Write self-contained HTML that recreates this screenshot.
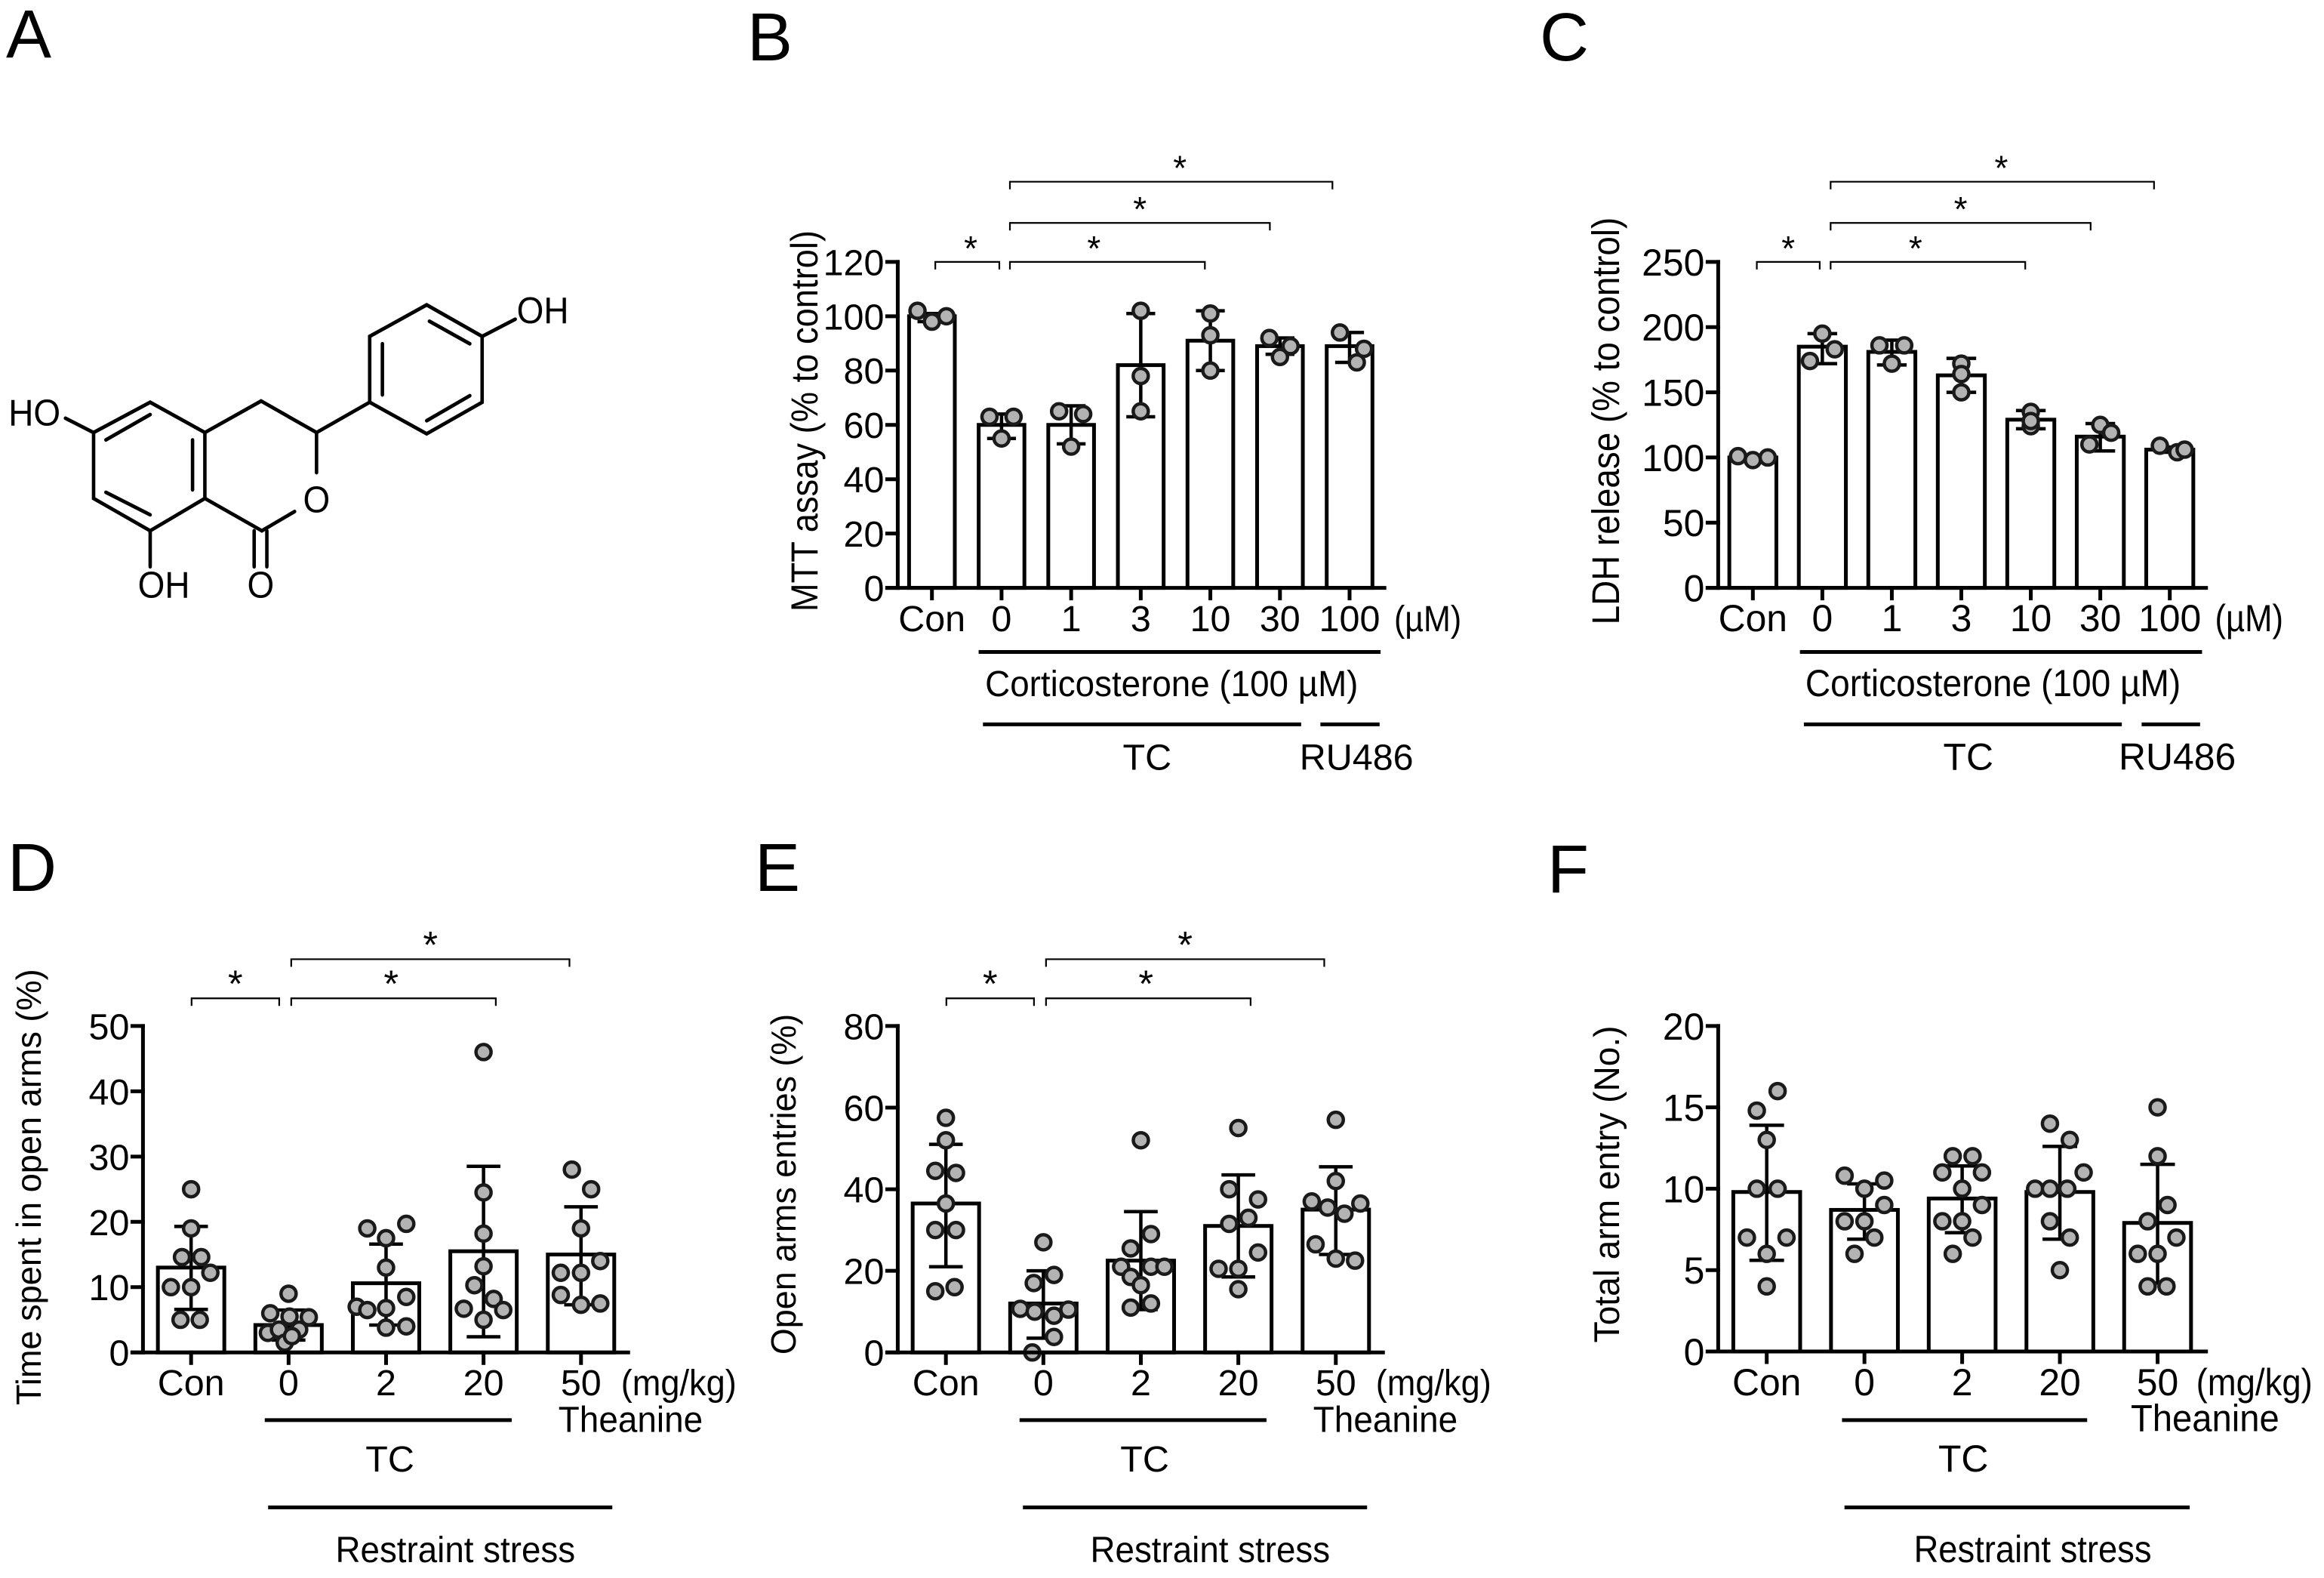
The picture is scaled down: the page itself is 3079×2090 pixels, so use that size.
<!DOCTYPE html>
<html><head><meta charset="utf-8"><style>
html,body{margin:0;padding:0;background:#fff;}
svg{display:block;font-family:"Liberation Sans",Arial,sans-serif;}
</style></head><body>
<svg id="fig" width="3079" height="2090" viewBox="0 0 3079 2090" xmlns="http://www.w3.org/2000/svg">
<rect width="3079" height="2090" fill="#fff"/>
<g font-size="90" fill="#000">
<text x="8" y="76">A</text>
<text x="990" y="80">B</text>
<text x="2040" y="80">C</text>
<text x="10" y="1180">D</text>
<text x="1000" y="1180">E</text>
<text x="2050" y="1182">F</text>
</g>
<g transform="scale(0.5102,0.542)" stroke="#000" stroke-width="9" fill="none" stroke-linecap="round">
<polygon points="390,983 532,1057 532,1218 390,1297 243,1218 243,1057"/>
<line x1="275" y1="1075" x2="390" y2="1013"/><line x1="500" y1="1075" x2="500" y2="1197"/><line x1="275" y1="1203" x2="390" y2="1258"/>
<line x1="243" y1="1057" x2="170" y2="1022"/><line x1="390" y1="1297" x2="390" y2="1385"/>
<polyline points="532,1057 678,980 822,1057 822,1155"/>
<polyline points="532,1218 680,1297 765,1250"/>
<line x1="660" y1="1297" x2="660" y2="1385"/><line x1="693" y1="1297" x2="693" y2="1385"/>
<line x1="822" y1="1057" x2="960" y2="983"/>
<polygon points="960,983 960,822 1108,745 1252,822 1252,983 1108,1060"/>
<line x1="993" y1="840" x2="993" y2="965"/><line x1="1115" y1="785" x2="1220" y2="840"/><line x1="1108" y1="1028" x2="1220" y2="967"/>
<line x1="1252" y1="822" x2="1338" y2="780"/>
<g stroke="none" fill="#000" font-size="90">
<text x="22" y="1040">HO</text><text x="358" y="1460">OH</text>
<text x="822" y="1252" text-anchor="middle">O</text><text x="677" y="1460" text-anchor="middle">O</text>
<text x="1342" y="790">OH</text>
</g>
</g>
</svg>
<script>
// ---------- Panel B data (MTT) ----------
const bCategories = ["Con","0","1","3","10","30","100"];
const bMeans = [100,60,60,82,91,89,89];
const bErrLow = [98,55,53,63,80,86,83];
const bErrHigh = [101,64,67,101,102,92,94];
const bPoints = [[102,98,100],[63,55,63],[65,52,64],[102,78,65],[101,93,80],[92,85,89],[94,83,88]];
const bTicks = [0,20,40,60,80,100,120];
// ---------- Panel C data (LDH) ----------
const cCategories = ["Con","0","1","3","10","30","100"];
const cMeans = [100,185,181,163,129,116,106];
const cErrLow = [99,172,171,150,122,105,104];
const cErrHigh = [101,195,190,176,136,126,108];
const cPoints = [[101,98,100],[174,195,183],[186,172,186],[172,150,164],[135,124,128],[110,125,119],[109,104,106]];
const cTicks = [0,50,100,150,200,250];
// ---------- Panel D data (time in open arms) ----------
const dCategories = ["Con","0","2","20","50"];
const dMeans = [13,4.2,10.6,15.5,15.0];
const dErrLow = [6.6,1.9,4.2,2.4,7.3];
const dErrHigh = [19.3,6.5,16.6,28.5,22.3];
const dPoints = [[25,19,14.6,14.6,10,10,12.2,5,5],[9,6,5.5,5.4,3,3.5,3.5,1.5,2.5],[19,19.7,17.5,13,7,6.5,6.8,8.5,3.8,4],[46,24.5,18.2,13.2,10.3,8.2,6.7,6.5,5],[28,25,19,12.2,12.2,14,8.8,7.3,7.5]];
const dTicks = [0,10,20,30,40,50];
// ---------- Panel E data (open arms entries) ----------
const eCategories = ["Con","0","2","20","50"];
const eMeans = [36.5,12,22.5,31,35];
const eErrLow = [21,3.5,10.5,18.5,24];
const eErrHigh = [51,20,34.5,43.5,45.5];
const ePoints = [[57.5,52,44.5,44,36.5,30,30,15,16],[27,17,19,10.7,10,9,10.5,3.8,0],[52,29,25.5,21,21,18.5,21,16.5,11,12],[55,40,37.5,31.5,33,24.5,20.5,20.5,15.5],[57,42,37,35.5,34,36.5,26.5,23,22.5]];
const eTicks = [0,20,40,60,80];
// ---------- Panel F data (total arm entry) ----------
const fCategories = ["Con","0","2","20","50"];
const fMeans = [9.8,8.7,9.4,9.8,7.9];
const fErrLow = [5.6,6.9,7.3,6.9,4.2];
const fErrHigh = [13.9,10.3,11.4,12.6,11.5];
const fPoints = [[16,14.8,13,10,10,7,7,6,4],[10.8,10.5,10,9,8,8,7,6],[12,12,11,11,10,9,8,8,7,6],[14,13,11,10,10,10,8,7,5],[15,12,9,8,7,6,6,4,4]];
const fTicks = [0,5,10,15,20];

// layout: horizontal jitter of dots (zoom units), not data
const jitB = [[-30,0,30],[-25,0,25],[-25,0,25],[0,0,0],[0,0,0],[-22,0,22],[-20,15,30]];
const jitD = [[0,0,-19,21,-42,0,40,-22,18],[0,-38,2,42,-43,-20,22,-8,7],[-39,42,0,0,-61,-39,0,42,0,42],[0,0,0,0,-19,21,-41,41,0],[-19,21,0,-42,0,40,-42,0,40]];
const jitE = [[0,0,-22,21,0,-22,21,-22,18],[0,-20,22,-48,-18,22,52,22,-23],[0,21,-21,21,-41,-21,49,0,-21,21],[0,-19,41,-19,21,41,-41,0,0],[0,0,-50,-17,18,51,-42,0,40]];
const jitF = [[22,-20,0,-20,22,-40,40,0,0],[-40,40,0,40,-40,0,20,-20],[-19,21,-40,40,0,40,-40,0,21,-19],[-20,20,48,-50,-20,15,-20,20,0],[0,0,20,-20,38,-40,0,-20,18]];

const NS = "http://www.w3.org/2000/svg";
const fig = document.getElementById("fig");
function mk(tag, attrs, parent){
  const e = document.createElementNS(NS, tag);
  for (const k in attrs) e.setAttribute(k, attrs[k]);
  parent.appendChild(e);
  return e;
}
function txt(parent, x, y, s, size, anchor, len){
  const t = mk("text", {x:x, y:y, "font-size":size, "text-anchor":anchor||"start", fill:"#000"}, parent);
  if (len){ t.setAttribute("textLength", len); t.setAttribute("lengthAdjust","spacingAndGlyphs"); }
  t.textContent = s;
  return t;
}

function panel(cfg){
  const sx = cfg.sx, sy = cfg.sy;
  const px = v => v / sx, py = v => v / sy;
  const g = mk("g", {transform:"translate("+cfg.ox+","+cfg.oy+")"}, fig);
  
  
  const yMax = cfg.ticks[cfg.ticks.length-1];
  const Y = v => py(cfg.y0 - (v / yMax) * (cfg.y0 - cfg.yTop));
  const X = i => px(cfg.x0c + i * cfg.step);
  const fs = px(76);
  cfg.means.forEach((m,i)=>{
    const r = mk("rect", {x:X(i)-px(cfg.bw/2), y:Y(m), width:px(cfg.bw), height:py(cfg.y0)-Y(m), fill:"#fff", stroke:"#000", "stroke-width":5}, g);
    
    
  });
  cfg.means.forEach((m,i)=>{
    const eg = mk("g", {stroke:"#000","stroke-width":4.5}, g);
    
    
    const c = px(cfg.cap);
    mk("line", {x1:X(i), x2:X(i), y1:Y(cfg.lo[i]), y2:Y(cfg.hi[i])}, eg);
    mk("line", {x1:X(i)-c, x2:X(i)+c, y1:Y(cfg.lo[i]), y2:Y(cfg.lo[i])}, eg);
    mk("line", {x1:X(i)-c, x2:X(i)+c, y1:Y(cfg.hi[i]), y2:Y(cfg.hi[i])}, eg);
  });
  cfg.pts.forEach((arr,i)=>{
    arr.forEach((v,j)=>{
      const c = mk("circle", {cx:X(i)+px(cfg.jit[i][j]||0), cy:Y(v), r:10, fill:"#b3b3b3", stroke:"#1a1a1a","stroke-width":4.5}, g);
      
      
    });
  });
  const ax = mk("g", {stroke:"#000","stroke-width":5,"stroke-linecap":"square"}, g);
  
  
  const axX = px(cfg.ax);
  mk("line", {x1:axX, x2:axX, y1:py(cfg.yTop), y2:py(cfg.y0)}, ax);
  mk("line", {x1:axX-14, x2:px(cfg.xEnd), y1:py(cfg.y0), y2:py(cfg.y0)}, ax);
  cfg.ticks.forEach(t=>{
    mk("line", {x1:axX-14, x2:axX, y1:Y(t), y2:Y(t)}, ax);
    const l = txt(g, axX-18, Y(t)+fs*0.36, String(t), fs, "end");
    
    
  });
  cfg.cats.forEach((c,i)=>{
    mk("line", {x1:X(i), x2:X(i), y1:py(cfg.y0), y2:py(cfg.y0)+14}, ax);
    const l = txt(g, X(i), py(cfg.tickBase), c, fs, "middle");
    
    
  });
  const yt = txt(g, 0, 0, cfg.ytitle, px(cfg.ytSize), "middle", py(cfg.ytLen));
  yt.setAttribute("transform", "translate("+px(cfg.ytX)+","+py(cfg.ytY)+") rotate(-90)");
  
  
  (cfg.brackets||[]).forEach(b=>{
    const bg = mk("g", {stroke:"#000","stroke-width":2.2,fill:"none"}, g);
    
    
    const x1 = px(b[0]), x2 = px(b[1]), yy = py(b[2]);
    mk("polyline", {points: x1+","+(yy+10)+" "+x1+","+yy+" "+x2+","+yy+" "+x2+","+(yy+10)}, bg);
    const st = txt(g, (x1+x2)/2 - px(b[3]||0), yy-2, "*", py(80), "middle");
    
    
  });
  (cfg.lines||[]).forEach(l=>{
    const ln = mk("line", {x1:px(l[0]), x2:px(l[1]), y1:py(l[2]), y2:py(l[2]), stroke:"#000","stroke-width":5}, g);
    
    
  });
  (cfg.labels||[]).forEach(l=>{
    const t = txt(g, px(l[0]), py(l[1]), l[2], fs, l[3]||"start", l[4] ? px(l[4]) : null);
    
    
  });
}

panel({name:"panel-b-mtt-chart", ox:1000, oy:150, sx:1.568, sy:1.742, ax:297, xEnd:1308, y0:1095, yTop:343,
  x0c:368, step:144.6, bw:95, cap:30, tickBase:1195, ticks:bTicks, cats:bCategories, means:bMeans, lo:bErrLow, hi:bErrHigh, pts:bPoints, jit:jitB,
  ytitle:"MTT assay (% to control)", ytSize:78, ytLen:880, ytX:130, ytY:710,
  brackets:[[375,508,343,-7],[530,935,343,28],[530,1070,253,0],[530,1200,158,-18]],
  lines:[[465,1300,1243],[474,1135,1410],[1175,1298,1410]],
  labels:[[1328,1195,"(µM)","start",140,"unit-label"],[866,1345,"Corticosterone (100 µM)","middle",775,"corticosterone-label"],[815,1515,"TC","middle",null,"tc-label"],[1250,1515,"RU486","middle",null,"ru486-label"]]});

panel({name:"panel-c-ldh-chart", ox:2050, oy:150, sx:1.524, sy:1.742, ax:345, xEnd:1330, y0:1095, yTop:343,
  x0c:415, step:140.3, bw:95, cap:30, tickBase:1195, ticks:cTicks, cats:cCategories, means:cMeans, lo:cErrLow, hi:cErrHigh, pts:cPoints, jit:jitB,
  ytitle:"LDH release (% to control)", ytSize:78, ytLen:940, ytX:145, ytY:710,
  brackets:[[423,550,343,0],[572,965,343,25],[572,1097,253,0],[572,1225,158,-18]],
  lines:[[510,1322,1243],[518,1160,1410],[1200,1318,1410]],
  labels:[[1348,1195,"(µM)","start",138,"unit-label"],[900,1345,"Corticosterone (100 µM)","middle",758,"corticosterone-label"],[850,1515,"TC","middle",null,"tc-label"],[1272,1515,"RU486","middle",null,"ru486-label"]]});

const behaviourLabels = ()=>[[1290,1185,"(mg/kg)","start",240,"unit-label"],[1160,1262,"Theanine","start",300,"theanine-label"],[810,1345,"TC","middle",null,"tc-label"],[946,1535,"Restraint stress","middle",498,"restraint-stress-label"]];

panel({name:"panel-d-time-open-arms-chart", ox:0, oy:1100, sx:1.568, sy:1.584, ax:297, xEnd:1305, y0:1095, yTop:410,
  x0c:397, step:202.5, bw:138, cap:35, tickBase:1185, ticks:dTicks, cats:dCategories, means:dMeans, lo:dErrLow, hi:dErrHigh, pts:dPoints, jit:jitD,
  ytitle:"Time spent in open arms (%)", ytSize:72, ytLen:915, ytX:85, ytY:748,
  brackets:[[398,580,352,0],[605,1030,352,5],[605,1183,270,0]],
  lines:[[550,1063,1237],[557,1272,1420]],
  labels:behaviourLabels()});

panel({name:"panel-e-open-arms-entries-chart", ox:1000, oy:1100, sx:1.568, sy:1.584, ax:297, xEnd:1305, y0:1095, yTop:410,
  x0c:397, step:202.5, bw:138, cap:35, tickBase:1185, ticks:eTicks, cats:eCategories, means:eMeans, lo:eErrLow, hi:eErrHigh, pts:ePoints, jit:jitE,
  ytitle:"Open arms entries (%)", ytSize:72, ytLen:715, ytX:85, ytY:742,
  brackets:[[398,580,352,0],[605,1030,352,5],[605,1183,270,0]],
  lines:[[550,1063,1237],[557,1272,1420]],
  labels:behaviourLabels()});

panel({name:"panel-f-total-arm-entry-chart", ox:2050, oy:1100, sx:1.524, sy:1.584, ax:345, xEnd:1330, y0:1093, yTop:410,
  x0c:443, step:197.3, bw:135, cap:35, tickBase:1185, ticks:fTicks, cats:fCategories, means:fMeans, lo:fErrLow, hi:fErrHigh, pts:fPoints, jit:jitF,
  ytitle:"Total arm entry (No.)", ytSize:72, ytLen:665, ytX:145, ytY:742,
  brackets:[],
  lines:[[595,1090,1237],[600,1297,1420]],
  labels:[[1310,1185,"(mg/kg)","start",235,"unit-label"],[1178,1260,"Theanine","start",300,"theanine-label"],[840,1345,"TC","middle",null,"tc-label"],[980,1535,"Restraint stress","middle",480,"restraint-stress-label"]]});
</script>
</body></html>
